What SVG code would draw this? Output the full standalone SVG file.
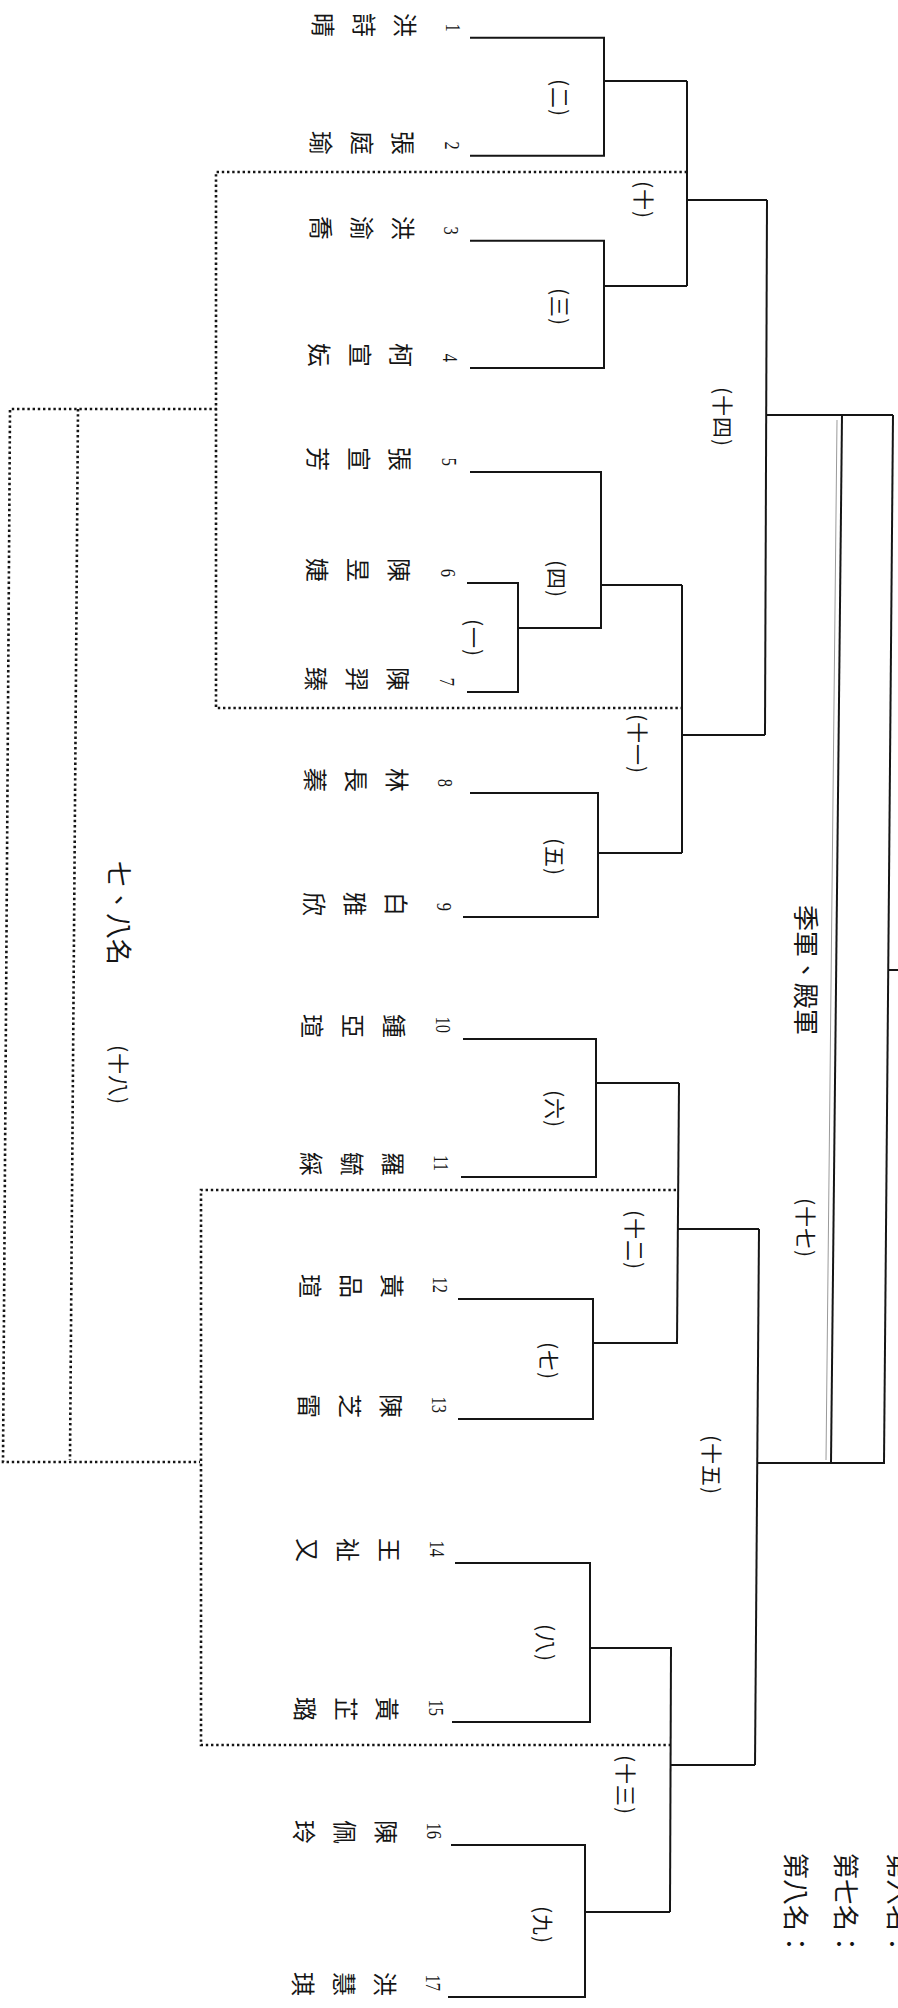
<svg xmlns="http://www.w3.org/2000/svg" width="898" height="2008" viewBox="0 0 898 2008">
<style>
.ln{stroke:#151515;stroke-width:2;fill:none}
.th{stroke:#9a9a9a;stroke-width:1;fill:none}
.dt{stroke:#151515;stroke-width:2.6;stroke-dasharray:2.4 2.8;fill:none}
.nm{font-family:"Noto Sans CJK TC","Noto Sans CJK SC",sans-serif;font-size:24px;fill:#151515;text-anchor:middle;dominant-baseline:central}
.lb{font-family:"Noto Sans CJK TC","Noto Sans CJK SC",sans-serif;font-size:21px;fill:#151515;text-anchor:middle;dominant-baseline:central;letter-spacing:1px}
.big{font-family:"Noto Sans CJK TC","Noto Sans CJK SC",sans-serif;font-size:26px;fill:#151515;dominant-baseline:central}
.no{font-family:"Liberation Serif",serif;font-size:22px;fill:#151515;text-anchor:end;dominant-baseline:central}
</style>
<rect width="898" height="2008" fill="#fff"/>
<g id="connectors">
<path class="ln" d="M470 37.7 H604 V155.7 H470"/><path class="ln" d="M604 81 H687"/>
<path class="ln" d="M470 240.7 H604 V368 H470"/><path class="ln" d="M604 286 H687"/>
<path class="ln" d="M470 472 H601 V628 H518"/><path class="ln" d="M467 583 H518 V692 H467"/>
<path class="ln" d="M601 585 H682"/>
<path class="ln" d="M470 793 H598 V917 H463"/><path class="ln" d="M598 853 H682"/>
<path class="ln" d="M687 81 V286"/><path class="ln" d="M687 200 H767"/>
<path class="ln" d="M682 585 V853"/><path class="ln" d="M682 735 H765"/>
<path class="ln" d="M767 200 L765 735"/><path class="ln" d="M766 415 H893"/>
<path class="ln" d="M463 1039 H596 V1177 H461"/><path class="ln" d="M596 1083 H679"/>
<path class="ln" d="M458 1299 H593 V1419 H458"/><path class="ln" d="M592 1343 H678"/>
<path class="ln" d="M679 1083 L677 1343"/><path class="ln" d="M678 1229 H759"/>
<path class="ln" d="M455 1563 H590 V1722 H452"/><path class="ln" d="M590 1648 H672"/>
<path class="ln" d="M451 1845 H585 V1997 H448"/><path class="ln" d="M585 1912 H670"/>
<path class="ln" d="M671 1648 L670 1912"/><path class="ln" d="M670 1765 H755"/>
<path class="ln" d="M759 1229 L755 1765"/><path class="ln" d="M757 1463 H885"/>
<path class="ln" d="M842 415 L831 1463"/><path class="th" d="M837 420 L826 1460"/>
<path class="ln" d="M893 415 L884 1463"/>
<path class="ln" d="M888 970 H898"/>
<path class="dt" d="M687 172 H216 V708 H682"/>
<path class="dt" d="M217 409 H10 L3 1462 H200"/>
<path class="dt" d="M78 409 L70 1460"/>
<path class="dt" d="M676 1190 H201 V1745 H670"/>
</g>
<g id="p1"><text class="no" transform="translate(453,31.7) rotate(90) scale(0.75,1)">1</text><text class="nm" transform="translate(406,25) rotate(90)" x="0 0 0" y="0 41 82">洪詩晴</text></g>
<g id="p2"><text class="no" transform="translate(452,149.7) rotate(90) scale(0.75,1)">2</text><text class="nm" transform="translate(404.8,143) rotate(90)" x="0 0 0" y="0 41 82">張庭瑜</text></g>
<g id="p3"><text class="no" transform="translate(451,234.7) rotate(90) scale(0.75,1)">3</text><text class="nm" transform="translate(404,228) rotate(90)" x="0 0 0" y="0 41 82">洪渝喬</text></g>
<g id="p4"><text class="no" transform="translate(450,362) rotate(90) scale(0.75,1)">4</text><text class="nm" transform="translate(402.7,355) rotate(90)" x="0 0 0" y="0 41 82">柯宣妘</text></g>
<g id="p5"><text class="no" transform="translate(449,466) rotate(90) scale(0.75,1)">5</text><text class="nm" transform="translate(401.6,459) rotate(90)" x="0 0 0" y="0 41 82">張宣芳</text></g>
<g id="p6"><text class="no" transform="translate(448,577) rotate(90) scale(0.75,1)">6</text><text class="nm" transform="translate(400.5,570) rotate(90)" x="0 0 0" y="0 41 82">陳昱婕</text></g>
<g id="p7"><text class="no" transform="translate(447,686) rotate(90) scale(0.75,1)">7</text><text class="nm" transform="translate(399.4,679) rotate(90)" x="0 0 0" y="0 41 82">陳羿臻</text></g>
<g id="p8"><text class="no" transform="translate(445,787) rotate(90) scale(0.75,1)">8</text><text class="nm" transform="translate(398.4,780) rotate(90)" x="0 0 0" y="0 41 82">林長蓁</text></g>
<g id="p9"><text class="no" transform="translate(444,911) rotate(90) scale(0.75,1)">9</text><text class="nm" transform="translate(397.1,904) rotate(90)" x="0 0 0" y="0 41 82">白雅欣</text></g>
<g id="p10"><text class="no" transform="translate(443,1033) rotate(90) scale(0.75,1)">10</text><text class="nm" transform="translate(395.8,1026) rotate(90)" x="0 0 0" y="0 41 82">鍾亞瑄</text></g>
<g id="p11"><text class="no" transform="translate(441,1171) rotate(90) scale(0.75,1)">11</text><text class="nm" transform="translate(394.4,1164) rotate(90)" x="0 0 0" y="0 41 82">羅毓綵</text></g>
<g id="p12"><text class="no" transform="translate(440,1293) rotate(90) scale(0.75,1)">12</text><text class="nm" transform="translate(393.2,1286) rotate(90)" x="0 0 0" y="0 41 82">黃品瑄</text></g>
<g id="p13"><text class="no" transform="translate(439,1413) rotate(90) scale(0.75,1)">13</text><text class="nm" transform="translate(392,1406) rotate(90)" x="0 0 0" y="0 41 82">陳芝雷</text></g>
<g id="p14"><text class="no" transform="translate(437,1557) rotate(90) scale(0.75,1)">14</text><text class="nm" transform="translate(390.5,1550) rotate(90)" x="0 0 0" y="0 41 82">王祉又</text></g>
<g id="p15"><text class="no" transform="translate(436,1716) rotate(90) scale(0.75,1)">15</text><text class="nm" transform="translate(388.9,1709) rotate(90)" x="0 0 0" y="0 41 82">黃芷璐</text></g>
<g id="p16"><text class="no" transform="translate(434,1839) rotate(90) scale(0.75,1)">16</text><text class="nm" transform="translate(387.6,1832) rotate(90)" x="0 0 0" y="0 41 82">陳佩玲</text></g>
<g id="p17"><text class="no" transform="translate(433,1991) rotate(90) scale(0.75,1)">17</text><text class="nm" transform="translate(386.1,1984) rotate(90)" x="0 0 0" y="0 41 82">洪慧琪</text></g>
<g id="m1"><text class="lb" transform="translate(475,638) rotate(90)">(一)</text></g>
<g id="m2"><text class="lb" transform="translate(561,98) rotate(90)">(二)</text></g>
<g id="m3"><text class="lb" transform="translate(561,307) rotate(90)">(三)</text></g>
<g id="m4"><text class="lb" transform="translate(558,579) rotate(90)">(四)</text></g>
<g id="m5"><text class="lb" transform="translate(556,857) rotate(90)">(五)</text></g>
<g id="m6"><text class="lb" transform="translate(556,1109) rotate(90)">(六)</text></g>
<g id="m7"><text class="lb" transform="translate(550,1361) rotate(90)">(七)</text></g>
<g id="m8"><text class="lb" transform="translate(547,1643) rotate(90)">(八)</text></g>
<g id="m9"><text class="lb" transform="translate(544,1925) rotate(90)">(九)</text></g>
<g id="m10"><text class="lb" transform="translate(645,200) rotate(90)">(十)</text></g>
<g id="m11"><text class="lb" transform="translate(639,744) rotate(90)">(十一)</text></g>
<g id="m12"><text class="lb" transform="translate(636,1240) rotate(90)">(十二)</text></g>
<g id="m13"><text class="lb" transform="translate(627,1785) rotate(90)">(十三)</text></g>
<g id="m14"><text class="lb" transform="translate(724,417) rotate(90)">(十四)</text></g>
<g id="m15"><text class="lb" transform="translate(713,1465) rotate(90)">(十五)</text></g>
<g id="m17"><text class="lb" transform="translate(807,1228) rotate(90)">(十七)</text><text class="big" text-anchor="middle" transform="translate(807,970) rotate(90)" font-size="28">季軍、殿軍</text></g>
<g id="m18"><text class="lb" transform="translate(120,1075) rotate(90)">(十八)</text><text class="big" text-anchor="middle" transform="translate(120,913) rotate(90)">七、八名</text></g>
<g id="ranks">
<text class="big" transform="translate(900,1853) rotate(90)">第六名：</text>
<text class="big" transform="translate(847,1853) rotate(90)">第七名：</text>
<text class="big" transform="translate(797,1853) rotate(90)">第八名：</text>
</g>
</svg>
